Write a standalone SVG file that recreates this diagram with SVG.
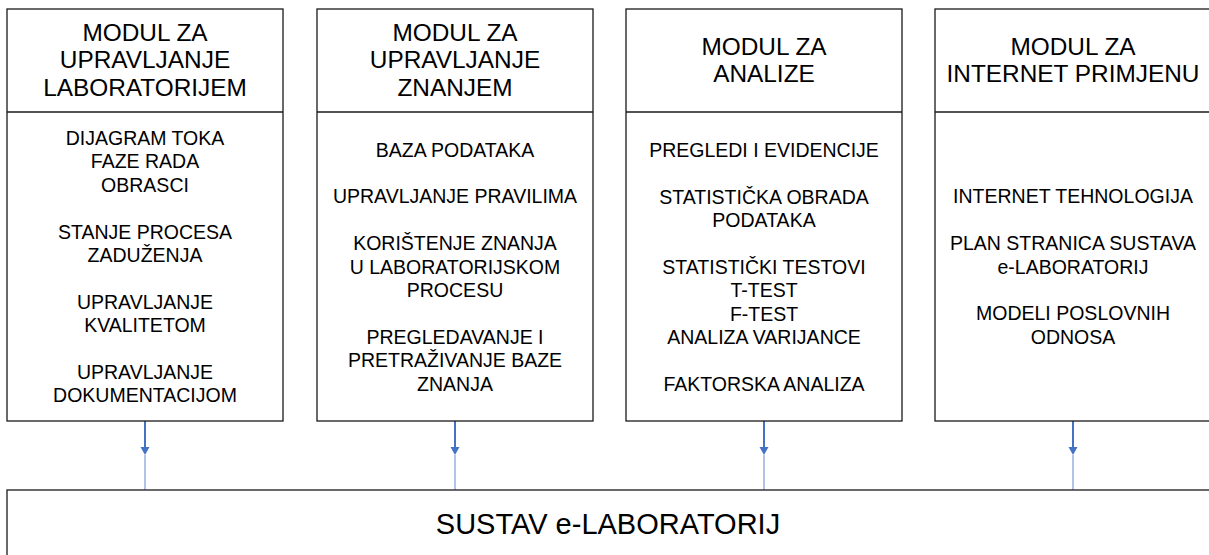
<svg xmlns="http://www.w3.org/2000/svg" width="1209" height="555" viewBox="0 0 1209 555">
  <style>
    .box { fill: #ffffff; stroke: #1a1a1a; stroke-width: 1.3; }
    .div { stroke: #1a1a1a; stroke-width: 1.3; }
    .hd { font-family: "Liberation Sans", Arial, sans-serif; font-size: 24.4px; fill: #000; text-anchor: middle; }
    .bd { font-family: "Liberation Sans", Arial, sans-serif; font-size: 19.5px; fill: #000; text-anchor: middle; }
    .main { font-family: "Liberation Sans", Arial, sans-serif; font-size: 29px; fill: #000; text-anchor: middle; }
    .c1 { stroke: #4472C4; stroke-width: 2; fill: none; }
    .c2 { stroke: #9DB5E0; stroke-width: 1.6; fill: none; }
    .ah { fill: #4472C4; }
  </style>
  <rect width="1209" height="555" fill="#ffffff"/>

  <g id="connectors">
    <g>
      <line class="c1" x1="145" y1="421" x2="145" y2="448"/>
      <polygon class="ah" points="140.5,447 149.5,447 145,455"/>
      <line class="c2" x1="145" y1="455" x2="145" y2="490"/>
    </g>
    <g>
      <line class="c1" x1="455" y1="421" x2="455" y2="448"/>
      <polygon class="ah" points="450.5,447 459.5,447 455,455"/>
      <line class="c2" x1="455" y1="455" x2="455" y2="490"/>
    </g>
    <g>
      <line class="c1" x1="764" y1="421" x2="764" y2="448"/>
      <polygon class="ah" points="759.5,447 768.5,447 764,455"/>
      <line class="c2" x1="764" y1="455" x2="764" y2="490"/>
    </g>
    <g>
      <line class="c1" x1="1073" y1="421" x2="1073" y2="448"/>
      <polygon class="ah" points="1068.5,447 1077.5,447 1073,455"/>
      <line class="c2" x1="1073" y1="455" x2="1073" y2="490"/>
    </g>
  </g>

  <g id="modul-laboratorij">
    <rect class="box" x="7" y="9" width="276" height="412"/>
    <line class="div" x1="7" y1="112" x2="283" y2="112"/>
    <text class="hd" x="145" y="41">MODUL ZA</text>
    <text class="hd" x="145" y="68.4">UPRAVLJANJE</text>
    <text class="hd" x="145" y="95.8">LABORATORIJEM</text>
    <text class="bd" x="145" y="145">DIJAGRAM TOKA</text>
    <text class="bd" x="145" y="168.4">FAZE RADA</text>
    <text class="bd" x="145" y="191.8">OBRASCI</text>
    <text class="bd" x="145" y="238.6">STANJE PROCESA</text>
    <text class="bd" x="145" y="262">ZADUŽENJA</text>
    <text class="bd" x="145" y="308.8">UPRAVLJANJE</text>
    <text class="bd" x="145" y="332.2">KVALITETOM</text>
    <text class="bd" x="145" y="379">UPRAVLJANJE</text>
    <text class="bd" x="145" y="402.4">DOKUMENTACIJOM</text>
  </g>

  <g id="modul-znanje">
    <rect class="box" x="317" y="9" width="276" height="412"/>
    <line class="div" x1="317" y1="112" x2="593" y2="112"/>
    <text class="hd" x="455" y="41">MODUL ZA</text>
    <text class="hd" x="455" y="68.4">UPRAVLJANJE</text>
    <text class="hd" x="455" y="95.8">ZNANJEM</text>
    <text class="bd" x="455" y="156.5">BAZA PODATAKA</text>
    <text class="bd" x="455" y="203.3">UPRAVLJANJE PRAVILIMA</text>
    <text class="bd" x="455" y="250.1">KORIŠTENJE ZNANJA</text>
    <text class="bd" x="455" y="273.5">U LABORATORIJSKOM</text>
    <text class="bd" x="455" y="296.9">PROCESU</text>
    <text class="bd" x="455" y="343.7">PREGLEDAVANJE I</text>
    <text class="bd" x="455" y="367.1">PRETRAŽIVANJE BAZE</text>
    <text class="bd" x="455" y="390.5">ZNANJA</text>
  </g>

  <g id="modul-analize">
    <rect class="box" x="626" y="9" width="276" height="412"/>
    <line class="div" x1="626" y1="112" x2="902" y2="112"/>
    <text class="hd" x="764" y="54.5">MODUL ZA</text>
    <text class="hd" x="764" y="81.9">ANALIZE</text>
    <text class="bd" x="764" y="157">PREGLEDI I EVIDENCIJE</text>
    <text class="bd" x="764" y="203.8">STATISTIČKA OBRADA</text>
    <text class="bd" x="764" y="227.2">PODATAKA</text>
    <text class="bd" x="764" y="274">STATISTIČKI TESTOVI</text>
    <text class="bd" x="764" y="297.4">T-TEST</text>
    <text class="bd" x="764" y="320.8">F-TEST</text>
    <text class="bd" x="764" y="344.2">ANALIZA VARIJANCE</text>
    <text class="bd" x="764" y="391">FAKTORSKA ANALIZA</text>
  </g>

  <g id="modul-internet">
    <rect class="box" x="935" y="9" width="278" height="412"/>
    <line class="div" x1="935" y1="112" x2="1213" y2="112"/>
    <text class="hd" x="1073" y="54.5">MODUL ZA</text>
    <text class="hd" x="1073" y="81.9">INTERNET PRIMJENU</text>
    <text class="bd" x="1073" y="203.3">INTERNET TEHNOLOGIJA</text>
    <text class="bd" x="1073" y="250.1">PLAN STRANICA SUSTAVA</text>
    <text class="bd" x="1073" y="273.5">e-LABORATORIJ</text>
    <text class="bd" x="1073" y="320.3">MODELI POSLOVNIH</text>
    <text class="bd" x="1073" y="343.7">ODNOSA</text>
  </g>

  <g id="sustav">
    <rect class="box" x="7" y="490" width="1206" height="80"/>
    <text class="main" x="608" y="534">SUSTAV e-LABORATORIJ</text>
  </g>
</svg>
